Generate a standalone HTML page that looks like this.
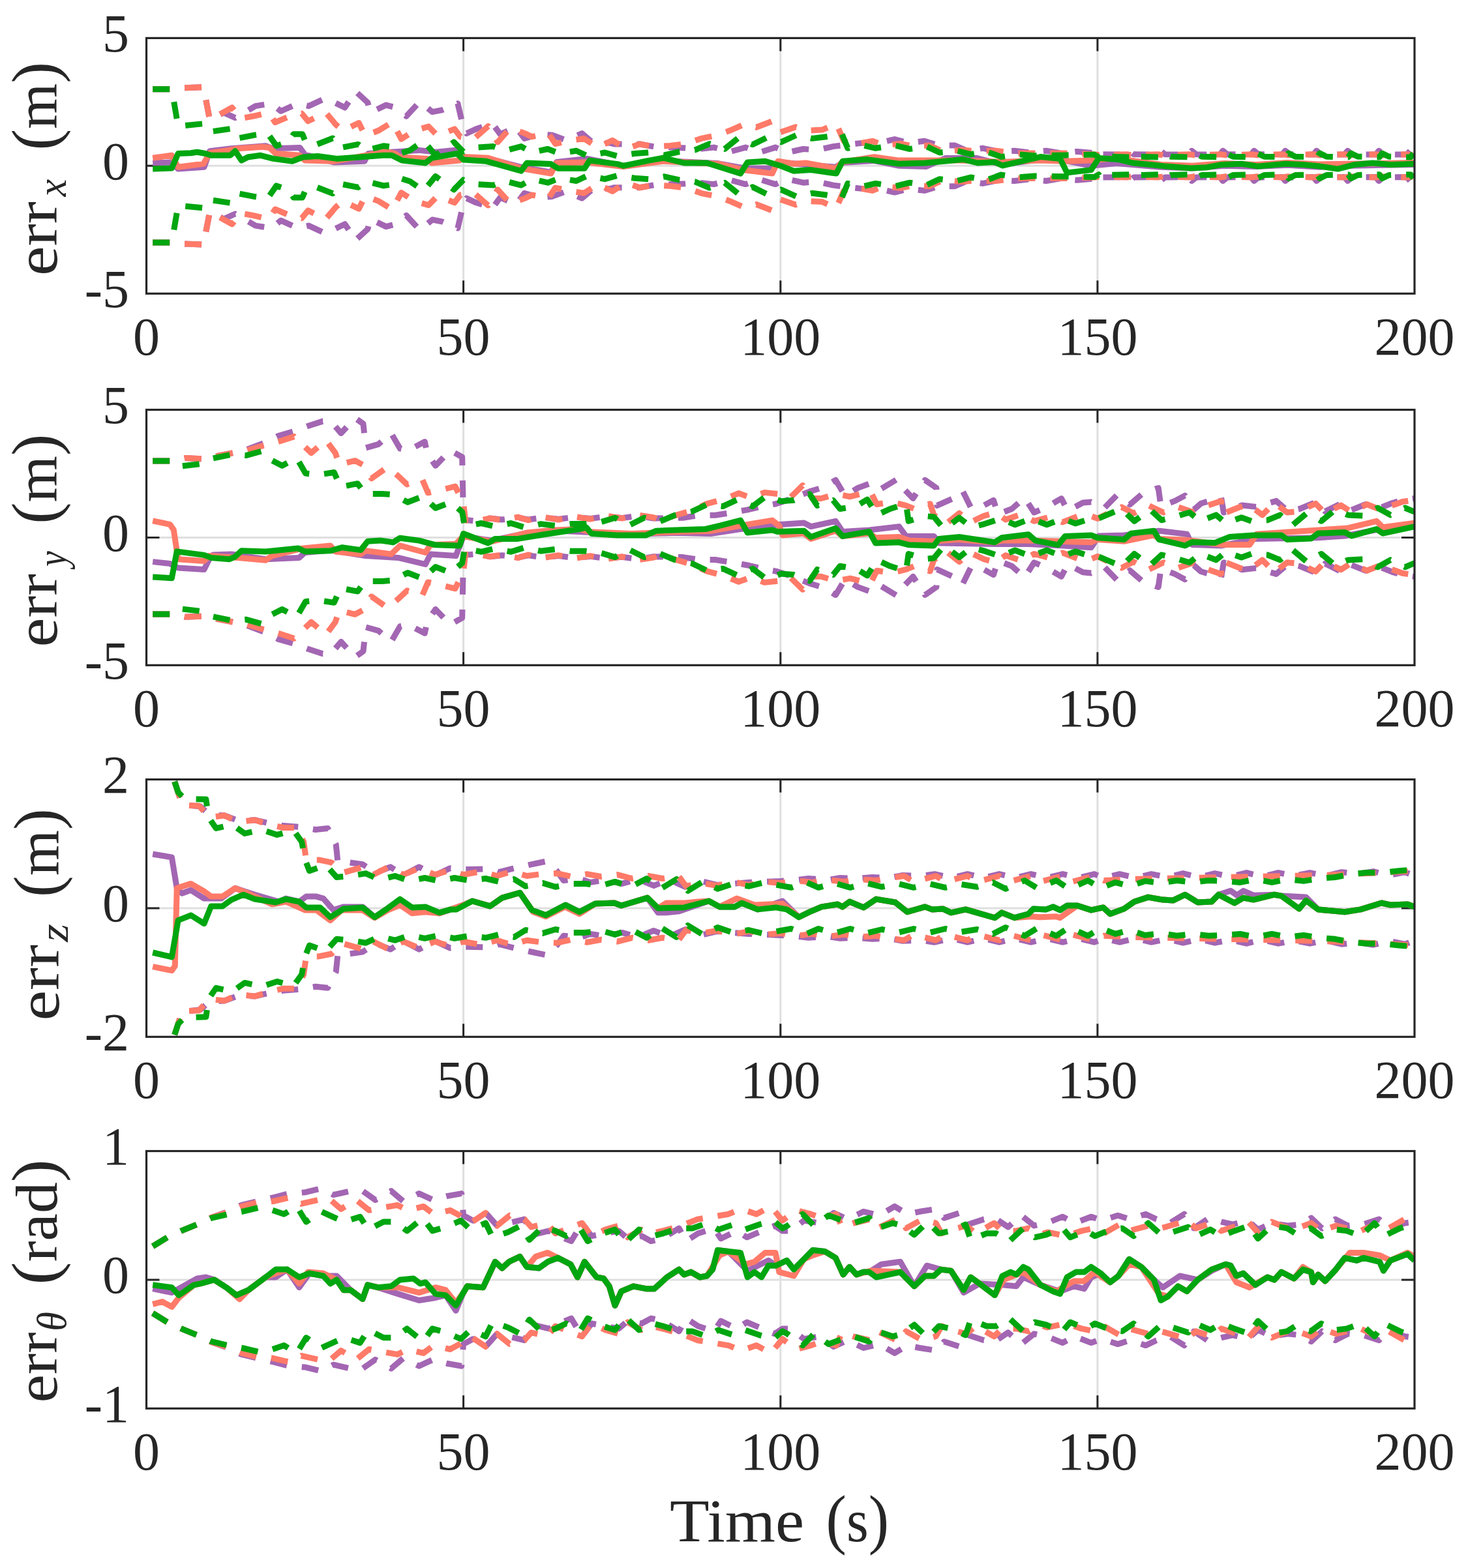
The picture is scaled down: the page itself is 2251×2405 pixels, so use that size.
<!DOCTYPE html>
<html><head><meta charset="utf-8"><title>Estimation errors</title>
<style>html,body{margin:0;padding:0;background:#fff;}svg{display:block;}</style>
</head><body>
<svg width="2251" height="2405" viewBox="0 0 2251 2405">
<rect x="0" y="0" width="2251" height="2405" fill="#fff"/>
<g stroke="#dfdfdf" stroke-width="3"><line x1="710.6" y1="58.4" x2="710.6" y2="450.3"/><line x1="1196.8" y1="58.4" x2="1196.8" y2="450.3"/><line x1="1682.9" y1="58.4" x2="1682.9" y2="450.3"/><line x1="224.5" y1="254.3" x2="2169.0" y2="254.3"/></g>
<path d="M710.6 450.3V430.3M710.6 58.4V78.4M1196.8 450.3V430.3M1196.8 58.4V78.4M1682.9 450.3V430.3M1682.9 58.4V78.4M224.5 254.3H244.5M2169.0 254.3H2149.0" stroke="#262626" stroke-width="3" fill="none"/>
<clipPath id="c0"><rect x="224.5" y="58.4" width="1944.5" height="391.9"/></clipPath>
<g clip-path="url(#c0)">
<polyline points="234.2,136.8 263.4,136.8 282.8,134.8 312.0,133.6 321.7,183.8 343.1,172.8 360.6,180.7 391.7,162.6 416.0,158.7 430.6,170.5 456.9,158.7 473.4,162.6 498.7,150.9 511.3,156.4 528.8,165.0 545.3,140.3 563.8,157.2 567.7,172.8 592.0,161.1 603.7,164.2 623.1,178.3 643.5,156.0 663.0,171.7 677.6,168.9 701.9,158.7 710.6,196.3 715.5,204.6 730.1,197.9 755.3,189.7 767.0,205.8 791.3,195.2 804.0,212.4 827.3,205.8 846.7,207.3 868.1,215.2 892.4,204.6 910.9,220.6 935.2,219.1 942.0,221.0 980.9,221.0 1003.3,225.0 1050.9,226.9 1072.3,228.5 1094.7,226.1 1119.0,232.8 1143.3,226.1 1163.7,234.0 1189.0,226.1 1206.5,234.0 1231.8,228.5 1253.1,230.1 1277.4,224.6 1299.8,221.8 1324.1,219.1 1347.4,219.1 1371.8,213.6 1393.1,219.1 1417.5,216.3 1439.8,223.0 1464.1,223.0 1482.6,231.2 1506.9,227.3 1531.2,232.4 1555.5,231.2 1579.8,234.0 1604.1,231.2 1627.5,235.1 1651.8,232.4 1677.0,234.8 1679.0,237.1 1683.8,231.2 1690.7,236.7 1726.6,237.1 1726.8,237.1 1731.7,231.2 1738.5,236.7 1774.5,237.1 1774.7,237.1 1779.5,231.2 1786.3,236.7 1822.3,237.1 1822.5,237.1 1827.4,231.2 1834.2,236.7 1870.1,237.1 1870.3,237.1 1875.2,231.2 1882.0,236.7 1918.0,237.1 1918.2,237.1 1923.0,231.2 1929.8,236.7 1965.8,237.1 1966.0,237.1 1970.9,231.2 1977.7,236.7 2013.6,237.1 2013.8,237.1 2018.7,231.2 2025.5,236.7 2061.5,237.1 2061.7,237.1 2066.5,231.2 2073.3,236.7 2109.3,237.1 2109.5,237.1 2114.4,231.2 2121.2,236.7 2157.1,237.1 2157.3,237.1 2162.2,231.2 2169.0,236.7" fill="none" stroke="#a366b3" stroke-width="9" stroke-dasharray="26,23" stroke-linejoin="round"/>
<polyline points="234.2,371.9 263.4,371.9 282.8,373.9 312.0,375.1 321.7,324.9 343.1,335.9 360.6,328.0 391.7,346.1 416.0,350.0 430.6,338.2 456.9,350.0 473.4,346.1 498.7,357.8 511.3,352.3 528.8,343.7 545.3,368.4 563.8,351.5 567.7,335.9 592.0,347.6 603.7,344.5 623.1,330.4 643.5,352.7 663.0,337.0 677.6,339.8 701.9,350.0 710.6,312.4 715.5,304.1 730.1,310.8 755.3,319.0 767.0,302.9 791.3,313.5 804.0,296.3 827.3,302.9 846.7,301.4 868.1,293.5 892.4,304.1 910.9,288.1 935.2,289.6 942.0,287.7 980.9,287.7 1003.3,283.7 1050.9,281.8 1072.3,280.2 1094.7,282.6 1119.0,275.9 1143.3,282.6 1163.7,274.7 1189.0,282.6 1206.5,274.7 1231.8,280.2 1253.1,278.6 1277.4,284.1 1299.8,286.9 1324.1,289.6 1347.4,289.6 1371.8,295.1 1393.1,289.6 1417.5,292.4 1439.8,285.7 1464.1,285.7 1482.6,277.5 1506.9,281.4 1531.2,276.3 1555.5,277.5 1579.8,274.7 1604.1,277.5 1627.5,273.6 1651.8,276.3 1677.0,273.9 1679.0,271.6 1683.8,277.5 1690.7,272.0 1726.6,271.6 1726.8,271.6 1731.7,277.5 1738.5,272.0 1774.5,271.6 1774.7,271.6 1779.5,277.5 1786.3,272.0 1822.3,271.6 1822.5,271.6 1827.4,277.5 1834.2,272.0 1870.1,271.6 1870.3,271.6 1875.2,277.5 1882.0,272.0 1918.0,271.6 1918.2,271.6 1923.0,277.5 1929.8,272.0 1965.8,271.6 1966.0,271.6 1970.9,277.5 1977.7,272.0 2013.6,271.6 2013.8,271.6 2018.7,277.5 2025.5,272.0 2061.5,271.6 2061.7,271.6 2066.5,277.5 2073.3,272.0 2109.3,271.6 2109.5,271.6 2114.4,277.5 2121.2,272.0 2157.1,271.6 2157.3,271.6 2162.2,277.5 2169.0,272.0" fill="none" stroke="#a366b3" stroke-width="9" stroke-dasharray="26,23" stroke-linejoin="round"/>
<polyline points="234.2,250.0 263.4,248.9 273.1,259.1 313.0,256.3 321.7,231.6 354.8,227.7 407.3,223.8 418.0,227.7 459.8,226.5 467.6,237.1 512.3,248.9 559.0,247.3 564.8,235.5 642.6,230.4 668.8,233.2 700.9,230.1 710.6,242.6 749.5,243.4 799.1,256.3 844.8,264.1 853.5,248.5 900.2,243.4 955.6,254.3 1016.9,246.5 1099.5,250.4 1142.3,258.3 1184.1,258.3 1192.9,248.5 1235.6,252.4 1281.3,256.3 1292.0,249.6 1340.6,246.5 1378.6,254.3 1420.4,255.5 1449.5,242.6 1498.1,242.6 1537.0,252.4 1595.4,244.6 1634.3,246.5 1673.2,254.3 1712.0,250.4 1780.1,256.3 1828.7,257.9 1877.3,254.3 1925.9,255.5 1974.5,253.2 2023.2,256.3 2071.8,254.3 2120.4,253.2 2169.0,252.4" fill="none" stroke="#a366b3" stroke-width="9" stroke-linejoin="round"/>
<polyline points="234.2,136.8 263.4,136.8 282.8,134.8 312.0,133.6 321.7,183.8 355.8,165.0 368.4,181.8 387.8,178.3 412.1,172.8 421.9,187.7 451.0,175.6 462.7,174.0 472.4,185.8 499.6,172.8 515.2,191.3 525.9,200.3 550.2,188.5 559.9,208.1 580.3,200.3 601.7,187.3 615.3,213.2 635.8,200.3 657.2,194.0 670.8,208.1 697.0,197.9 705.8,209.7 727.2,212.4 748.5,193.6 763.1,217.9 782.6,196.3 804.9,204.6 815.6,209.7 840.9,204.6 851.6,220.6 877.9,215.2 895.4,212.4 916.7,226.1 939.1,215.2 959.5,228.5 980.9,221.0 1003.3,225.0 1027.6,223.4 1051.9,220.6 1075.2,212.4 1099.5,207.3 1119.0,200.3 1143.3,189.7 1159.8,195.2 1184.1,185.8 1195.8,203.0 1220.1,194.8 1236.6,200.3 1260.9,199.1 1282.3,189.7 1294.0,216.3 1308.6,221.8 1337.7,216.3 1355.2,223.0 1381.5,220.3 1400.9,224.6 1425.2,223.0 1445.6,232.4 1474.8,230.1 1488.4,231.2 1527.3,231.2 1556.5,235.1 1634.3,235.1 1678.0,236.7 1687.7,237.9 1727.6,236.7 1735.6,237.9 1775.4,236.7 1783.4,237.9 1823.3,236.7 1831.2,237.9 1871.1,236.7 1879.1,237.9 1918.9,236.7 1926.9,237.9 1966.8,236.7 1974.7,237.9 2014.6,236.7 2022.6,237.9 2062.4,236.7 2070.4,237.9 2110.3,236.7 2118.2,237.9 2158.1,236.7 2166.1,237.9" fill="none" stroke="#ff7a68" stroke-width="9" stroke-dasharray="26,23" stroke-linejoin="round"/>
<polyline points="234.2,371.9 263.4,371.9 282.8,373.9 312.0,375.1 321.7,324.9 355.8,343.7 368.4,326.9 387.8,330.4 412.1,335.9 421.9,321.0 451.0,333.1 462.7,334.7 472.4,322.9 499.6,335.9 515.2,317.4 525.9,308.4 550.2,320.2 559.9,300.6 580.3,308.4 601.7,321.4 615.3,295.5 635.8,308.4 657.2,314.7 670.8,300.6 697.0,310.8 705.8,299.0 727.2,296.3 748.5,315.1 763.1,290.8 782.6,312.4 804.9,304.1 815.6,299.0 840.9,304.1 851.6,288.1 877.9,293.5 895.4,296.3 916.7,282.6 939.1,293.5 959.5,280.2 980.9,287.7 1003.3,283.7 1027.6,285.3 1051.9,288.1 1075.2,296.3 1099.5,301.4 1119.0,308.4 1143.3,319.0 1159.8,313.5 1184.1,322.9 1195.8,305.7 1220.1,313.9 1236.6,308.4 1260.9,309.6 1282.3,319.0 1294.0,292.4 1308.6,286.9 1337.7,292.4 1355.2,285.7 1381.5,288.4 1400.9,284.1 1425.2,285.7 1445.6,276.3 1474.8,278.6 1488.4,277.5 1527.3,277.5 1556.5,273.6 1634.3,273.6 1678.0,272.0 1687.7,270.8 1727.6,272.0 1735.6,270.8 1775.4,272.0 1783.4,270.8 1823.3,272.0 1831.2,270.8 1871.1,272.0 1879.1,270.8 1918.9,272.0 1926.9,270.8 1966.8,272.0 1974.7,270.8 2014.6,272.0 2022.6,270.8 2062.4,272.0 2070.4,270.8 2110.3,272.0 2118.2,270.8 2158.1,272.0 2166.1,270.8" fill="none" stroke="#ff7a68" stroke-width="9" stroke-dasharray="26,23" stroke-linejoin="round"/>
<polyline points="234.2,242.2 263.4,238.3 273.1,256.3 312.0,251.2 321.7,234.4 350.9,230.4 365.5,227.7 402.4,225.3 413.1,226.5 422.8,235.5 459.8,238.3 467.6,246.1 512.3,247.3 561.9,238.3 590.1,231.6 605.6,235.5 613.4,241.0 655.2,243.4 662.0,250.0 704.8,246.1 710.6,240.6 748.5,242.2 799.1,258.3 844.8,266.1 853.5,250.0 899.2,248.9 955.6,255.5 1016.9,247.3 1103.4,251.6 1142.3,261.0 1184.1,266.1 1192.9,247.3 1217.2,251.2 1235.6,250.0 1281.3,258.3 1292.0,248.5 1340.6,240.6 1378.6,246.1 1469.0,246.1 1537.0,248.5 1593.4,246.1 1634.3,247.3 1673.2,246.1 1712.0,242.6 1741.2,247.3 1780.1,252.4 1828.7,254.3 1877.3,250.4 1925.9,252.4 1974.5,249.6 2023.2,252.0 2071.8,251.2 2120.4,250.4 2169.0,249.6" fill="none" stroke="#ff7a68" stroke-width="9" stroke-linejoin="round"/>
<polyline points="234.2,136.8 263.4,136.8 273.1,193.6 312.0,189.7 321.7,202.2 355.8,197.1 365.5,212.0 391.7,206.9 410.2,204.2 423.8,223.8 443.3,217.1 450.1,205.8 463.7,205.8 469.5,219.9 486.0,221.4 510.3,212.0 521.0,226.9 549.2,221.4 561.9,230.4 588.1,223.8 606.6,226.5 615.3,234.8 629.0,230.4 649.4,215.9 667.8,238.3 696.0,217.9 710.6,232.8 732.0,226.1 756.3,224.6 773.8,231.2 799.1,224.6 815.6,234.0 839.9,228.5 858.4,235.5 883.7,231.2 901.2,239.5 927.4,234.0 946.9,239.5 973.1,235.5 994.5,234.0 1018.8,237.9 1041.2,232.8 1065.5,230.1 1087.9,220.6 1111.2,228.5 1132.6,211.2 1154.0,221.8 1175.4,211.2 1197.7,217.9 1222.0,206.9 1245.4,212.4 1266.8,209.7 1291.1,205.8 1299.8,227.3 1324.1,223.0 1342.6,227.3 1371.8,223.0 1395.1,228.5 1420.4,224.6 1440.8,234.0 1467.0,231.2 1488.4,236.7 1512.7,232.4 1535.1,240.6 1560.4,236.7 1585.7,238.7 1634.3,237.9 1678.0,237.1 1684.8,241.0 1688.7,235.1 1699.4,240.2 1729.5,241.0 1732.7,241.0 1736.5,235.1 1747.2,240.2 1777.4,241.0 1780.5,241.0 1784.4,235.1 1795.1,240.2 1825.2,241.0 1828.3,241.0 1832.2,235.1 1842.9,240.2 1873.0,241.0 1876.2,241.0 1880.0,235.1 1890.7,240.2 1920.9,241.0 1924.0,241.0 1927.9,235.1 1938.6,240.2 1968.7,241.0 1971.8,241.0 1975.7,235.1 1986.4,240.2 2016.6,241.0 2019.7,241.0 2023.6,235.1 2034.2,240.2 2064.4,241.0 2067.5,241.0 2071.4,235.1 2082.1,240.2 2112.2,241.0 2115.3,241.0 2119.2,235.1 2129.9,240.2 2160.1,241.0 2163.2,241.0 2167.1,235.1" fill="none" stroke="#00a610" stroke-width="9" stroke-dasharray="26,23" stroke-linejoin="round"/>
<polyline points="234.2,371.9 263.4,371.9 273.1,315.1 312.0,319.0 321.7,306.5 355.8,311.6 365.5,296.7 391.7,301.8 410.2,304.5 423.8,284.9 443.3,291.6 450.1,302.9 463.7,302.9 469.5,288.8 486.0,287.3 510.3,296.7 521.0,281.8 549.2,287.3 561.9,278.3 588.1,284.9 606.6,282.2 615.3,273.9 629.0,278.3 649.4,292.8 667.8,270.4 696.0,290.8 710.6,275.9 732.0,282.6 756.3,284.1 773.8,277.5 799.1,284.1 815.6,274.7 839.9,280.2 858.4,273.2 883.7,277.5 901.2,269.2 927.4,274.7 946.9,269.2 973.1,273.2 994.5,274.7 1018.8,270.8 1041.2,275.9 1065.5,278.6 1087.9,288.1 1111.2,280.2 1132.6,297.5 1154.0,286.9 1175.4,297.5 1197.7,290.8 1222.0,301.8 1245.4,296.3 1266.8,299.0 1291.1,302.9 1299.8,281.4 1324.1,285.7 1342.6,281.4 1371.8,285.7 1395.1,280.2 1420.4,284.1 1440.8,274.7 1467.0,277.5 1488.4,272.0 1512.7,276.3 1535.1,268.1 1560.4,272.0 1585.7,270.0 1634.3,270.8 1678.0,271.6 1684.8,267.7 1688.7,273.6 1699.4,268.5 1729.5,267.7 1732.7,267.7 1736.5,273.6 1747.2,268.5 1777.4,267.7 1780.5,267.7 1784.4,273.6 1795.1,268.5 1825.2,267.7 1828.3,267.7 1832.2,273.6 1842.9,268.5 1873.0,267.7 1876.2,267.7 1880.0,273.6 1890.7,268.5 1920.9,267.7 1924.0,267.7 1927.9,273.6 1938.6,268.5 1968.7,267.7 1971.8,267.7 1975.7,273.6 1986.4,268.5 2016.6,267.7 2019.7,267.7 2023.6,273.6 2034.2,268.5 2064.4,267.7 2067.5,267.7 2071.4,273.6 2082.1,268.5 2112.2,267.7 2115.3,267.7 2119.2,273.6 2129.9,268.5 2160.1,267.7 2163.2,267.7 2167.1,273.6" fill="none" stroke="#00a610" stroke-width="9" stroke-dasharray="26,23" stroke-linejoin="round"/>
<polyline points="234.2,259.1 263.4,257.9 273.1,235.5 292.6,234.8 302.3,233.2 314.9,235.5 323.7,238.3 352.8,238.3 360.6,231.6 370.3,246.1 380.1,241.0 399.5,238.3 418.9,243.4 448.1,247.3 464.6,241.0 487.0,239.5 516.2,243.4 551.2,241.0 587.1,238.3 600.8,238.3 616.3,246.1 652.3,250.0 662.0,242.2 700.9,235.5 710.6,244.9 745.6,247.3 799.1,262.2 807.9,250.0 844.8,251.6 855.5,258.3 896.3,258.3 904.1,246.1 946.9,251.6 955.6,254.3 995.5,246.1 1016.9,242.2 1049.0,250.0 1084.0,250.0 1135.5,266.1 1146.2,248.9 1173.4,247.3 1196.8,254.3 1217.2,262.2 1243.4,260.6 1282.3,266.1 1292.0,247.3 1329.9,244.6 1378.6,251.2 1418.4,250.0 1477.7,244.6 1499.1,250.0 1525.4,248.5 1537.0,254.0 1566.2,247.3 1595.4,240.6 1625.5,243.4 1636.2,264.9 1673.2,260.6 1684.8,242.6 1715.0,244.6 1737.3,250.0 1763.6,252.4 1787.9,255.1 1825.8,257.9 1850.1,256.7 1873.4,252.4 1903.6,251.2 1929.8,255.1 1970.7,251.2 1997.9,252.4 2024.1,255.1 2051.4,259.1 2077.6,252.4 2104.8,250.0 2132.1,252.4 2169.0,251.2" fill="none" stroke="#00a610" stroke-width="9" stroke-linejoin="round"/>
</g>
<rect x="224.5" y="58.4" width="1944.5" height="391.9" fill="none" stroke="#262626" stroke-width="3.2"/>
<text x="198" y="470.8" font-family="Liberation Serif, serif" font-size="82" fill="#262626" text-anchor="end">-5</text>
<text x="198" y="274.9" font-family="Liberation Serif, serif" font-size="82" fill="#262626" text-anchor="end">0</text>
<text x="198" y="78.9" font-family="Liberation Serif, serif" font-size="82" fill="#262626" text-anchor="end">5</text>
<text x="224.5" y="544.0" font-family="Liberation Serif, serif" font-size="82" fill="#262626" text-anchor="middle">0</text>
<text x="710.6" y="544.0" font-family="Liberation Serif, serif" font-size="82" fill="#262626" text-anchor="middle">50</text>
<text x="1196.8" y="544.0" font-family="Liberation Serif, serif" font-size="82" fill="#262626" text-anchor="middle">100</text>
<text x="1682.9" y="544.0" font-family="Liberation Serif, serif" font-size="82" fill="#262626" text-anchor="middle">150</text>
<text x="2169.0" y="544.0" font-family="Liberation Serif, serif" font-size="82" fill="#262626" text-anchor="middle">200</text>
<g stroke="#dfdfdf" stroke-width="3"><line x1="710.6" y1="628.5" x2="710.6" y2="1020.3"/><line x1="1196.8" y1="628.5" x2="1196.8" y2="1020.3"/><line x1="1682.9" y1="628.5" x2="1682.9" y2="1020.3"/><line x1="224.5" y1="824.4" x2="2169.0" y2="824.4"/></g>
<path d="M710.6 1020.3V1000.3M710.6 628.5V648.5M1196.8 1020.3V1000.3M1196.8 628.5V648.5M1682.9 1020.3V1000.3M1682.9 628.5V648.5M224.5 824.4H244.5M2169.0 824.4H2149.0" stroke="#262626" stroke-width="3" fill="none"/>
<clipPath id="c1"><rect x="224.5" y="628.5" width="1944.5" height="391.8"/></clipPath>
<g clip-path="url(#c1)">
<polyline points="234.2,706.9 263.4,706.9 283.8,702.6 310.1,703.7 354.8,695.1 379.1,689.2 405.3,679.4 426.7,668.5 450.1,661.8 470.5,654.0 494.8,646.1 507.4,646.1 523.0,664.5 544.4,641.0 557.0,650.0 560.9,686.9 580.3,681.4 599.8,664.5 613.4,688.1 626.0,690.8 651.3,677.5 655.2,695.9 667.8,714.3 690.2,690.8 708.7,701.0 710.6,797.0 727.2,798.9 751.5,795.0 769.9,797.0 794.2,793.8 809.8,797.0 832.2,793.8 856.5,796.2 880.8,793.1 905.1,795.4 929.4,792.3 953.7,794.6 978.0,791.1 1002.3,795.0 1047.0,794.2 1072.3,790.3 1096.6,790.3 1120.9,786.4 1145.2,782.1 1168.6,776.6 1189.9,772.7 1215.2,764.5 1241.5,753.9 1263.8,747.2 1281.3,736.2 1295.9,760.5 1315.4,748.4 1337.7,740.2 1351.3,749.6 1375.6,735.1 1383.4,747.2 1400.0,764.5 1418.4,736.2 1435.9,748.4 1436.9,775.4 1461.2,764.5 1475.8,752.3 1488.4,777.8 1499.1,780.5 1523.4,767.2 1530.2,788.7 1551.6,780.5 1571.1,763.3 1585.7,786.0 1605.1,777.8 1627.5,764.5 1637.2,783.3 1660.5,771.1 1673.2,769.9 1693.6,779.0 1713.0,759.0 1732.5,773.9 1752.9,756.2 1776.2,748.4 1780.1,776.6 1801.5,768.4 1817.0,760.1 1830.7,781.7 1841.4,772.3 1872.5,762.9 1876.4,786.0 1904.5,775.0 1925.9,777.4 1957.0,768.4 1975.5,784.4 1993.0,780.5 2019.3,769.5 2031.9,784.4 2056.2,772.3 2069.8,783.3 2094.1,773.5 2115.5,779.3 2135.0,771.5 2150.5,767.2 2169.0,764.5" fill="none" stroke="#a366b3" stroke-width="9" stroke-dasharray="26,23" stroke-linejoin="round"/>
<polyline points="234.2,941.9 263.4,941.9 283.8,946.2 310.1,945.1 354.8,953.7 379.1,959.6 405.3,969.4 426.7,980.3 450.1,987.0 470.5,994.8 494.8,1002.7 507.4,1002.7 523.0,984.3 544.4,1007.8 557.0,998.8 560.9,961.9 580.3,967.4 599.8,984.3 613.4,960.7 626.0,958.0 651.3,971.3 655.2,952.9 667.8,934.5 690.2,958.0 708.7,947.8 710.6,851.8 727.2,849.9 751.5,853.8 769.9,851.8 794.2,855.0 809.8,851.8 832.2,855.0 856.5,852.6 880.8,855.7 905.1,853.4 929.4,856.5 953.7,854.2 978.0,857.7 1002.3,853.8 1047.0,854.6 1072.3,858.5 1096.6,858.5 1120.9,862.4 1145.2,866.7 1168.6,872.2 1189.9,876.1 1215.2,884.3 1241.5,894.9 1263.8,901.6 1281.3,912.6 1295.9,888.3 1315.4,900.4 1337.7,908.6 1351.3,899.2 1375.6,913.7 1383.4,901.6 1400.0,884.3 1418.4,912.6 1435.9,900.4 1436.9,873.4 1461.2,884.3 1475.8,896.5 1488.4,871.0 1499.1,868.3 1523.4,881.6 1530.2,860.1 1551.6,868.3 1571.1,885.5 1585.7,862.8 1605.1,871.0 1627.5,884.3 1637.2,865.5 1660.5,877.7 1673.2,878.9 1693.6,869.8 1713.0,889.8 1732.5,874.9 1752.9,892.6 1776.2,900.4 1780.1,872.2 1801.5,880.4 1817.0,888.7 1830.7,867.1 1841.4,876.5 1872.5,885.9 1876.4,862.8 1904.5,873.8 1925.9,871.4 1957.0,880.4 1975.5,864.4 1993.0,868.3 2019.3,879.3 2031.9,864.4 2056.2,876.5 2069.8,865.5 2094.1,875.3 2115.5,869.5 2135.0,877.3 2150.5,881.6 2169.0,884.3" fill="none" stroke="#a366b3" stroke-width="9" stroke-dasharray="26,23" stroke-linejoin="round"/>
<polyline points="234.2,861.6 260.5,864.4 273.1,871.0 313.0,873.4 320.8,857.7 326.6,851.0 354.8,849.9 407.3,857.7 458.8,855.4 467.6,847.5 506.5,844.0 560.9,852.6 610.5,855.4 652.3,865.5 660.1,849.9 699.0,852.6 710.6,822.4 753.4,829.1 807.9,817.7 850.6,813.8 905.1,816.6 968.3,819.3 1036.3,817.3 1089.8,818.5 1135.5,811.5 1184.1,806.4 1191.9,804.8 1232.7,802.1 1243.4,807.6 1281.3,799.3 1292.0,815.4 1332.9,813.0 1378.6,807.6 1389.3,822.4 1432.0,822.4 1439.8,833.0 1525.4,834.6 1576.9,834.6 1630.4,836.9 1673.2,839.7 1684.8,822.0 1723.7,820.9 1777.2,814.2 1820.0,819.3 1827.7,835.4 1873.4,836.9 1925.9,826.4 2021.2,824.8 2062.1,822.0 2110.7,812.6 2169.0,806.0" fill="none" stroke="#a366b3" stroke-width="9" stroke-linejoin="round"/>
<polyline points="234.2,706.9 263.4,706.9 283.8,702.6 310.1,703.7 354.8,695.1 379.1,690.8 405.3,683.0 426.7,677.5 451.0,669.6 460.8,679.0 477.3,694.7 499.6,675.1 514.2,694.7 520.1,712.7 544.4,706.5 556.0,712.7 569.6,733.9 594.0,716.7 610.5,730.0 624.1,742.9 647.4,735.1 656.2,755.8 679.5,750.7 698.0,746.0 710.6,771.5 713.5,798.1 727.2,799.7 751.5,795.0 769.9,797.8 794.2,793.1 809.8,797.8 832.2,793.1 856.5,797.0 880.8,792.3 905.1,796.2 929.4,791.1 953.7,795.0 978.0,789.9 1002.3,793.8 1012.0,798.1 1036.3,790.3 1060.6,783.3 1084.0,772.7 1109.2,766.0 1132.6,756.6 1151.1,763.3 1172.4,755.4 1194.8,757.8 1210.4,764.5 1230.8,744.5 1245.4,764.5 1259.0,764.5 1282.3,757.8 1303.7,761.7 1334.8,753.9 1344.5,773.5 1366.9,769.9 1389.3,775.4 1401.9,780.5 1426.2,772.7 1432.0,789.9 1450.5,803.6 1470.9,787.2 1488.4,800.9 1507.9,791.5 1527.3,786.0 1541.9,797.0 1566.2,788.7 1585.7,799.3 1610.0,792.7 1629.4,800.9 1653.7,791.5 1673.2,791.5 1682.9,795.4 1719.8,777.8 1738.3,787.2 1760.7,775.0 1784.0,786.0 1805.4,777.4 1828.7,785.2 1841.4,779.0 1872.5,768.4 1873.4,788.7 1900.7,777.8 1914.3,773.9 1935.7,789.9 1954.1,771.1 1973.6,786.0 1992.1,784.4 2017.3,772.3 2031.9,787.2 2056.2,775.0 2071.8,785.2 2096.1,773.5 2115.5,781.3 2139.8,773.5 2150.5,769.5 2169.0,766.8" fill="none" stroke="#ff7a68" stroke-width="9" stroke-dasharray="26,23" stroke-linejoin="round"/>
<polyline points="234.2,941.9 263.4,941.9 283.8,946.2 310.1,945.1 354.8,953.7 379.1,958.0 405.3,965.8 426.7,971.3 451.0,979.2 460.8,969.8 477.3,954.1 499.6,973.7 514.2,954.1 520.1,936.1 544.4,942.3 556.0,936.1 569.6,914.9 594.0,932.1 610.5,918.8 624.1,905.9 647.4,913.7 656.2,893.0 679.5,898.1 698.0,902.8 710.6,877.3 713.5,850.7 727.2,849.1 751.5,853.8 769.9,851.0 794.2,855.7 809.8,851.0 832.2,855.7 856.5,851.8 880.8,856.5 905.1,852.6 929.4,857.7 953.7,853.8 978.0,858.9 1002.3,855.0 1012.0,850.7 1036.3,858.5 1060.6,865.5 1084.0,876.1 1109.2,882.8 1132.6,892.2 1151.1,885.5 1172.4,893.4 1194.8,891.0 1210.4,884.3 1230.8,904.3 1245.4,884.3 1259.0,884.3 1282.3,891.0 1303.7,887.1 1334.8,894.9 1344.5,875.3 1366.9,878.9 1389.3,873.4 1401.9,868.3 1426.2,876.1 1432.0,858.9 1450.5,845.2 1470.9,861.6 1488.4,847.9 1507.9,857.3 1527.3,862.8 1541.9,851.8 1566.2,860.1 1585.7,849.5 1610.0,856.1 1629.4,847.9 1653.7,857.3 1673.2,857.3 1682.9,853.4 1719.8,871.0 1738.3,861.6 1760.7,873.8 1784.0,862.8 1805.4,871.4 1828.7,863.6 1841.4,869.8 1872.5,880.4 1873.4,860.1 1900.7,871.0 1914.3,874.9 1935.7,858.9 1954.1,877.7 1973.6,862.8 1992.1,864.4 2017.3,876.5 2031.9,861.6 2056.2,873.8 2071.8,863.6 2096.1,875.3 2115.5,867.5 2139.8,875.3 2150.5,879.3 2169.0,882.0" fill="none" stroke="#ff7a68" stroke-width="9" stroke-dasharray="26,23" stroke-linejoin="round"/>
<polyline points="234.2,798.9 260.5,804.4 266.3,812.6 273.1,857.7 313.0,860.4 320.8,852.6 365.5,855.4 407.3,859.3 417.0,852.6 464.6,840.9 506.5,836.9 514.2,845.9 553.1,849.9 560.9,844.8 599.8,849.9 613.4,836.9 652.3,847.5 660.1,835.8 699.0,834.2 710.6,822.4 753.4,830.7 807.9,817.0 850.6,813.0 888.5,811.5 905.1,815.8 968.3,818.5 1036.3,815.8 1089.8,814.2 1135.5,806.4 1151.1,803.6 1184.1,798.1 1194.8,806.4 1199.7,820.9 1232.7,818.1 1243.4,826.4 1281.3,814.2 1292.0,822.4 1332.9,818.1 1342.6,824.8 1378.6,823.6 1394.1,829.1 1429.1,830.3 1469.0,827.5 1525.4,831.8 1536.1,829.1 1576.9,829.1 1622.6,830.3 1673.2,831.8 1682.9,827.5 1723.7,830.3 1769.4,820.9 1777.2,826.4 1819.0,828.3 1873.4,835.4 1916.2,835.4 1926.9,819.3 2010.5,813.8 2066.9,809.9 2110.7,799.3 2120.4,808.7 2169.0,802.1" fill="none" stroke="#ff7a68" stroke-width="9" stroke-linejoin="round"/>
<polyline points="234.2,706.9 263.4,706.9 273.1,715.5 306.2,711.6 326.6,702.9 354.8,697.1 377.1,698.6 401.4,692.0 412.1,703.7 432.6,714.3 454.9,702.6 468.5,726.1 487.0,728.4 512.3,724.5 522.0,746.8 548.3,741.7 559.9,757.4 586.2,757.4 602.7,758.6 625.1,770.3 648.4,761.3 667.8,779.3 691.2,770.3 708.7,785.2 712.6,807.6 737.8,802.5 759.2,807.6 783.5,802.5 804.9,809.1 829.2,803.6 851.6,806.4 874.9,803.6 897.3,803.6 920.6,800.9 943.0,794.2 963.4,806.4 987.7,794.2 1012.0,799.7 1034.4,790.3 1060.6,784.8 1083.0,774.2 1108.3,776.6 1131.6,766.0 1154.0,776.6 1175.4,760.5 1197.7,768.8 1217.2,767.2 1241.5,757.8 1253.1,775.4 1277.4,767.2 1288.1,780.5 1312.4,776.6 1329.9,766.0 1344.5,789.9 1364.9,780.5 1389.3,772.7 1393.1,799.3 1418.4,791.5 1432.0,792.7 1447.6,811.5 1470.9,794.2 1489.4,808.7 1509.8,803.6 1534.1,795.4 1556.5,804.8 1580.8,795.4 1605.1,804.8 1629.4,795.4 1648.8,802.9 1673.2,795.4 1680.9,796.6 1706.2,786.0 1719.8,780.5 1739.3,799.3 1763.6,781.7 1781.1,797.8 1801.5,792.7 1823.9,786.0 1840.4,799.3 1864.7,789.9 1879.3,802.1 1903.6,793.8 1919.1,799.3 1943.4,797.8 1962.9,789.9 1981.4,806.0 2003.7,787.2 2026.1,799.3 2047.5,781.7 2066.9,789.9 2090.2,791.1 2112.6,779.0 2132.1,789.9 2154.4,779.0 2169.0,785.2" fill="none" stroke="#00a610" stroke-width="9" stroke-dasharray="26,23" stroke-linejoin="round"/>
<polyline points="234.2,941.9 263.4,941.9 273.1,933.3 306.2,937.2 326.6,945.9 354.8,951.7 377.1,950.2 401.4,956.8 412.1,945.1 432.6,934.5 454.9,946.2 468.5,922.7 487.0,920.4 512.3,924.3 522.0,902.0 548.3,907.1 559.9,891.4 586.2,891.4 602.7,890.2 625.1,878.5 648.4,887.5 667.8,869.5 691.2,878.5 708.7,863.6 712.6,841.2 737.8,846.3 759.2,841.2 783.5,846.3 804.9,839.7 829.2,845.2 851.6,842.4 874.9,845.2 897.3,845.2 920.6,847.9 943.0,854.6 963.4,842.4 987.7,854.6 1012.0,849.1 1034.4,858.5 1060.6,864.0 1083.0,874.6 1108.3,872.2 1131.6,882.8 1154.0,872.2 1175.4,888.3 1197.7,880.0 1217.2,881.6 1241.5,891.0 1253.1,873.4 1277.4,881.6 1288.1,868.3 1312.4,872.2 1329.9,882.8 1344.5,858.9 1364.9,868.3 1389.3,876.1 1393.1,849.5 1418.4,857.3 1432.0,856.1 1447.6,837.3 1470.9,854.6 1489.4,840.1 1509.8,845.2 1534.1,853.4 1556.5,844.0 1580.8,853.4 1605.1,844.0 1629.4,853.4 1648.8,845.9 1673.2,853.4 1680.9,852.2 1706.2,862.8 1719.8,868.3 1739.3,849.5 1763.6,867.1 1781.1,851.0 1801.5,856.1 1823.9,862.8 1840.4,849.5 1864.7,858.9 1879.3,846.7 1903.6,855.0 1919.1,849.5 1943.4,851.0 1962.9,858.9 1981.4,842.8 2003.7,861.6 2026.1,849.5 2047.5,867.1 2066.9,858.9 2090.2,857.7 2112.6,869.8 2132.1,858.9 2154.4,869.8 2169.0,863.6" fill="none" stroke="#00a610" stroke-width="9" stroke-dasharray="26,23" stroke-linejoin="round"/>
<polyline points="234.2,885.1 263.4,886.7 271.2,845.9 313.0,851.4 323.7,855.4 351.9,857.7 360.6,853.8 370.3,844.8 407.3,845.9 456.9,840.9 467.6,845.9 506.5,844.8 524.9,839.7 553.1,843.6 563.8,830.3 584.2,829.1 602.7,831.8 613.4,825.2 642.6,829.1 667.8,835.8 704.8,836.9 710.6,818.5 748.5,833.0 759.2,826.4 794.2,826.4 834.1,819.7 888.5,811.5 899.2,809.1 907.0,818.5 946.9,820.9 990.6,820.9 1006.2,814.2 1036.3,813.0 1082.0,811.5 1103.4,806.4 1135.5,798.1 1146.2,817.0 1184.1,813.0 1191.9,815.4 1232.7,814.2 1243.4,823.6 1281.3,810.3 1292.0,822.4 1332.9,815.4 1342.6,833.0 1378.6,831.8 1394.1,835.8 1432.0,836.9 1439.8,826.4 1471.9,823.6 1525.4,831.8 1536.1,824.8 1576.9,819.7 1587.6,829.1 1622.6,835.8 1633.3,822.4 1673.2,820.9 1682.9,824.8 1723.7,827.5 1734.4,818.1 1769.4,814.2 1777.2,827.5 1817.0,836.9 1827.7,831.5 1862.7,832.6 1885.1,823.6 1922.0,820.9 1964.8,820.9 1973.6,827.5 2010.5,826.0 2021.2,818.1 2062.1,816.6 2072.7,822.0 2110.7,811.5 2120.4,818.1 2169.0,807.6" fill="none" stroke="#00a610" stroke-width="9" stroke-linejoin="round"/>
</g>
<rect x="224.5" y="628.5" width="1944.5" height="391.8" fill="none" stroke="#262626" stroke-width="3.2"/>
<text x="198" y="1040.8" font-family="Liberation Serif, serif" font-size="82" fill="#262626" text-anchor="end">-5</text>
<text x="198" y="844.9" font-family="Liberation Serif, serif" font-size="82" fill="#262626" text-anchor="end">0</text>
<text x="198" y="649.0" font-family="Liberation Serif, serif" font-size="82" fill="#262626" text-anchor="end">5</text>
<text x="224.5" y="1114.0" font-family="Liberation Serif, serif" font-size="82" fill="#262626" text-anchor="middle">0</text>
<text x="710.6" y="1114.0" font-family="Liberation Serif, serif" font-size="82" fill="#262626" text-anchor="middle">50</text>
<text x="1196.8" y="1114.0" font-family="Liberation Serif, serif" font-size="82" fill="#262626" text-anchor="middle">100</text>
<text x="1682.9" y="1114.0" font-family="Liberation Serif, serif" font-size="82" fill="#262626" text-anchor="middle">150</text>
<text x="2169.0" y="1114.0" font-family="Liberation Serif, serif" font-size="82" fill="#262626" text-anchor="middle">200</text>
<g stroke="#dfdfdf" stroke-width="3"><line x1="710.6" y1="1195.5" x2="710.6" y2="1590.3"/><line x1="1196.8" y1="1195.5" x2="1196.8" y2="1590.3"/><line x1="1682.9" y1="1195.5" x2="1682.9" y2="1590.3"/><line x1="224.5" y1="1392.9" x2="2169.0" y2="1392.9"/></g>
<path d="M710.6 1590.3V1570.3M710.6 1195.5V1215.5M1196.8 1590.3V1570.3M1196.8 1195.5V1215.5M1682.9 1590.3V1570.3M1682.9 1195.5V1215.5M224.5 1392.9H244.5M2169.0 1392.9H2149.0" stroke="#262626" stroke-width="3" fill="none"/>
<clipPath id="c2"><rect x="224.5" y="1195.5" width="1944.5" height="394.8"/></clipPath>
<g clip-path="url(#c2)">
<polyline points="234.2,1106.7 243.9,1136.3 253.7,1161.0 263.4,1185.6 273.1,1215.2 279.9,1234.0 307.1,1237.0 321.7,1249.8 344.1,1250.8 365.5,1258.7 390.8,1257.7 412.1,1262.6 434.5,1266.6 460.8,1268.5 484.1,1272.5 502.6,1270.5 515.2,1295.2 518.1,1323.8 535.6,1322.8 556.0,1325.8 576.5,1338.6 598.8,1329.7 618.3,1342.6 642.6,1329.7 666.9,1342.6 690.2,1331.7 710.6,1333.7 752.4,1332.7 765.1,1337.6 788.4,1331.7 814.7,1325.8 839.0,1320.8 854.5,1336.6 864.2,1350.5 888.5,1347.5 905.1,1353.4 929.4,1349.5 953.7,1355.4 978.0,1348.5 1002.3,1358.4 1026.6,1349.5 1050.9,1360.3 1075.2,1351.4 1099.5,1357.4 1148.1,1353.4 1196.8,1351.4 1222.0,1349.5 1239.5,1347.5 1269.7,1349.5 1288.1,1346.5 1313.4,1347.5 1337.7,1345.5 1363.0,1346.5 1383.4,1342.6 1411.6,1343.5 1433.0,1340.6 1459.3,1346.5 1483.6,1340.6 1507.9,1346.5 1532.2,1340.6 1556.5,1346.5 1580.8,1340.6 1605.1,1346.5 1629.4,1340.6 1653.7,1346.5 1678.0,1340.6 1692.6,1346.5 1716.9,1340.6 1741.2,1346.5 1765.5,1340.6 1789.8,1345.5 1814.1,1339.6 1838.4,1345.5 1862.7,1339.6 1887.0,1344.5 1911.4,1338.6 1935.7,1344.5 1960.0,1338.6 1984.3,1343.5 2008.6,1338.6 2032.9,1343.5 2057.2,1337.6 2081.5,1340.6 2105.8,1336.6 2130.1,1342.6 2154.4,1337.6 2169.0,1343.5" fill="none" stroke="#a366b3" stroke-width="9" stroke-dasharray="26,23" stroke-linejoin="round"/>
<polyline points="234.2,1679.1 243.9,1649.5 253.7,1624.8 263.4,1600.2 273.1,1570.6 279.9,1551.8 307.1,1548.8 321.7,1536.0 344.1,1535.0 365.5,1527.1 390.8,1528.1 412.1,1523.2 434.5,1519.2 460.8,1517.3 484.1,1513.3 502.6,1515.3 515.2,1490.6 518.1,1462.0 535.6,1463.0 556.0,1460.0 576.5,1447.2 598.8,1456.1 618.3,1443.2 642.6,1456.1 666.9,1443.2 690.2,1454.1 710.6,1452.1 752.4,1453.1 765.1,1448.2 788.4,1454.1 814.7,1460.0 839.0,1465.0 854.5,1449.2 864.2,1435.3 888.5,1438.3 905.1,1432.4 929.4,1436.3 953.7,1430.4 978.0,1437.3 1002.3,1427.4 1026.6,1436.3 1050.9,1425.5 1075.2,1434.4 1099.5,1428.4 1148.1,1432.4 1196.8,1434.4 1222.0,1436.3 1239.5,1438.3 1269.7,1436.3 1288.1,1439.3 1313.4,1438.3 1337.7,1440.3 1363.0,1439.3 1383.4,1443.2 1411.6,1442.2 1433.0,1445.2 1459.3,1439.3 1483.6,1445.2 1507.9,1439.3 1532.2,1445.2 1556.5,1439.3 1580.8,1445.2 1605.1,1439.3 1629.4,1445.2 1653.7,1439.3 1678.0,1445.2 1692.6,1439.3 1716.9,1445.2 1741.2,1439.3 1765.5,1445.2 1789.8,1440.3 1814.1,1446.2 1838.4,1440.3 1862.7,1446.2 1887.0,1441.3 1911.4,1447.2 1935.7,1441.3 1960.0,1447.2 1984.3,1442.2 2008.6,1447.2 2032.9,1442.2 2057.2,1448.2 2081.5,1445.2 2105.8,1449.2 2130.1,1443.2 2154.4,1448.2 2169.0,1442.2" fill="none" stroke="#a366b3" stroke-width="9" stroke-dasharray="26,23" stroke-linejoin="round"/>
<polyline points="234.2,1310.0 263.4,1314.9 271.2,1362.3 278.9,1370.2 292.6,1365.3 313.0,1378.1 339.2,1378.1 360.6,1362.3 375.2,1367.2 390.8,1372.2 427.7,1383.0 438.4,1378.1 458.8,1383.0 469.5,1375.1 485.1,1375.1 495.8,1378.1 511.3,1395.9 526.9,1390.9 556.0,1390.9 574.5,1406.7 594.9,1392.9 613.4,1380.1 631.9,1392.9 652.3,1392.9 673.7,1400.8 691.2,1394.9 710.6,1388.0 724.2,1382.0 751.5,1389.9 769.9,1377.1 797.2,1369.2 815.6,1395.9 837.0,1403.8 867.2,1388.0 888.5,1398.8 912.9,1386.0 942.0,1385.0 952.7,1389.0 992.6,1377.1 1009.1,1399.8 1021.7,1399.8 1041.2,1397.8 1086.9,1382.0 1103.4,1390.9 1126.7,1390.9 1137.4,1385.0 1161.7,1394.9 1199.7,1382.0 1224.9,1406.7 1243.4,1397.8 1259.9,1390.9 1284.3,1387.0 1292.0,1390.9 1302.7,1383.0 1324.1,1391.9 1343.6,1379.1 1372.7,1384.0 1391.2,1398.8 1418.4,1390.9 1429.1,1394.9 1445.6,1393.9 1458.3,1399.8 1480.6,1394.9 1525.4,1407.7 1536.1,1399.8 1555.5,1407.7 1576.9,1401.8 1584.7,1393.9 1604.1,1394.9 1614.8,1390.9 1625.5,1395.9 1636.2,1389.0 1651.8,1389.0 1673.2,1395.9 1691.6,1391.9 1702.3,1401.8 1723.7,1393.9 1739.3,1383.0 1760.7,1376.1 1783.0,1380.1 1798.6,1381.1 1817.0,1372.2 1836.5,1384.0 1857.9,1383.0 1868.6,1372.2 1887.0,1366.3 1896.8,1373.2 1906.5,1366.3 1922.0,1373.2 1954.1,1372.2 1964.8,1374.1 2002.7,1376.1 2021.2,1394.9 2062.1,1398.8 2086.4,1394.9 2118.4,1385.0 2132.1,1388.0 2158.3,1387.0 2169.0,1390.9" fill="none" stroke="#a366b3" stroke-width="9" stroke-linejoin="round"/>
<polyline points="234.2,1106.7 243.9,1136.3 253.7,1161.0 263.4,1185.6 273.1,1215.2 278.9,1235.0 305.2,1236.0 320.8,1253.7 344.1,1250.8 365.5,1260.6 390.8,1257.7 412.1,1264.6 434.5,1269.5 454.0,1269.5 465.6,1291.2 469.5,1318.9 489.0,1318.9 508.4,1322.8 525.9,1338.6 550.2,1331.7 559.9,1328.7 572.6,1341.6 595.9,1329.7 618.3,1341.6 642.6,1331.7 666.9,1341.6 690.2,1334.7 710.6,1341.6 737.8,1336.6 762.2,1343.5 784.5,1336.6 807.9,1343.5 830.2,1340.6 854.5,1339.6 875.9,1344.5 900.2,1340.6 921.6,1344.5 946.9,1341.6 969.2,1347.5 994.5,1343.5 1015.9,1347.5 1040.2,1343.5 1051.9,1359.3 1076.2,1354.4 1099.5,1358.4 1123.8,1352.4 1148.1,1357.4 1172.4,1352.4 1196.8,1354.4 1221.1,1350.5 1245.4,1353.4 1269.7,1349.5 1294.0,1352.4 1318.3,1348.5 1342.6,1350.5 1366.9,1346.5 1386.3,1343.5 1400.9,1352.4 1435.0,1343.5 1449.5,1352.4 1483.6,1343.5 1498.1,1352.4 1532.2,1343.5 1546.8,1352.4 1580.8,1343.5 1595.4,1352.4 1629.4,1343.5 1644.0,1352.4 1678.0,1343.5 1692.6,1350.5 1731.5,1348.5 1780.1,1347.5 1828.7,1346.5 1877.3,1345.5 1925.9,1344.5 1974.5,1343.5 2023.2,1342.6 2071.8,1340.6 2120.4,1338.6 2169.0,1335.7" fill="none" stroke="#ff7a68" stroke-width="9" stroke-dasharray="26,23" stroke-linejoin="round"/>
<polyline points="234.2,1679.1 243.9,1649.5 253.7,1624.8 263.4,1600.2 273.1,1570.6 278.9,1550.8 305.2,1549.8 320.8,1532.1 344.1,1535.0 365.5,1525.2 390.8,1528.1 412.1,1521.2 434.5,1516.3 454.0,1516.3 465.6,1494.6 469.5,1466.9 489.0,1466.9 508.4,1463.0 525.9,1447.2 550.2,1454.1 559.9,1457.1 572.6,1444.2 595.9,1456.1 618.3,1444.2 642.6,1454.1 666.9,1444.2 690.2,1451.1 710.6,1444.2 737.8,1449.2 762.2,1442.2 784.5,1449.2 807.9,1442.2 830.2,1445.2 854.5,1446.2 875.9,1441.3 900.2,1445.2 921.6,1441.3 946.9,1444.2 969.2,1438.3 994.5,1442.2 1015.9,1438.3 1040.2,1442.2 1051.9,1426.5 1076.2,1431.4 1099.5,1427.4 1123.8,1433.4 1148.1,1428.4 1172.4,1433.4 1196.8,1431.4 1221.1,1435.3 1245.4,1432.4 1269.7,1436.3 1294.0,1433.4 1318.3,1437.3 1342.6,1435.3 1366.9,1439.3 1386.3,1442.2 1400.9,1433.4 1435.0,1442.2 1449.5,1433.4 1483.6,1442.2 1498.1,1433.4 1532.2,1442.2 1546.8,1433.4 1580.8,1442.2 1595.4,1433.4 1629.4,1442.2 1644.0,1433.4 1678.0,1442.2 1692.6,1435.3 1731.5,1437.3 1780.1,1438.3 1828.7,1439.3 1877.3,1440.3 1925.9,1441.3 1974.5,1442.2 2023.2,1443.2 2071.8,1445.2 2120.4,1447.2 2169.0,1450.1" fill="none" stroke="#ff7a68" stroke-width="9" stroke-dasharray="26,23" stroke-linejoin="round"/>
<polyline points="234.2,1482.7 263.4,1488.6 268.3,1481.7 271.2,1362.3 292.6,1355.4 313.0,1367.2 323.7,1375.1 341.2,1375.1 360.6,1362.3 375.2,1368.2 417.0,1387.0 438.4,1383.0 467.6,1395.9 485.1,1395.9 506.5,1411.7 524.0,1395.9 556.0,1395.9 574.5,1407.7 594.9,1395.9 613.4,1388.0 631.9,1400.8 652.3,1398.8 673.7,1400.8 710.6,1388.0 724.2,1382.0 751.5,1389.9 769.9,1377.1 797.2,1369.2 817.6,1398.8 837.0,1405.7 866.2,1390.9 888.5,1401.8 912.9,1386.0 942.0,1385.0 952.7,1389.0 992.6,1377.1 1009.1,1392.9 1021.7,1385.0 1050.9,1385.0 1070.4,1383.0 1086.9,1382.0 1103.4,1390.9 1129.7,1378.1 1156.9,1388.0 1199.7,1386.0 1224.9,1406.7 1243.4,1397.8 1259.9,1390.9 1284.3,1387.0 1292.0,1390.9 1302.7,1383.0 1324.1,1391.9 1343.6,1379.1 1372.7,1384.0 1391.2,1398.8 1418.4,1390.9 1429.1,1394.9 1445.6,1393.9 1458.3,1399.8 1480.6,1394.9 1525.4,1407.7 1536.1,1399.8 1555.5,1407.7 1580.8,1405.7 1595.4,1406.7 1619.7,1405.7 1625.5,1407.7 1651.8,1389.0 1673.2,1395.9 1691.6,1391.9 1702.3,1401.8 1723.7,1393.9 1739.3,1383.0 1760.7,1376.1 1783.0,1380.1 1798.6,1381.1 1817.0,1372.2 1836.5,1384.0 1857.9,1383.0 1868.6,1372.2 1892.9,1385.0 1906.5,1377.1 1922.0,1380.1 1954.1,1372.2 1964.8,1374.1 1992.1,1393.9 2002.7,1381.1 2021.2,1394.9 2062.1,1398.8 2086.4,1394.9 2118.4,1385.0 2132.1,1388.0 2158.3,1387.0 2169.0,1390.9" fill="none" stroke="#ff7a68" stroke-width="9" stroke-linejoin="round"/>
<polyline points="234.2,1106.7 243.9,1136.3 253.7,1161.0 263.4,1185.6 273.1,1215.2 282.8,1225.1 315.9,1226.1 319.8,1253.7 331.4,1270.5 355.8,1264.6 375.2,1278.4 401.4,1272.5 424.8,1280.4 450.1,1273.5 462.7,1291.2 467.6,1317.9 474.4,1335.7 499.6,1326.8 516.2,1345.5 537.6,1343.5 560.9,1339.6 582.3,1349.5 605.6,1343.5 628.0,1351.4 651.3,1346.5 673.7,1351.4 697.0,1346.5 719.4,1350.5 744.7,1347.5 765.1,1352.4 788.4,1348.5 805.9,1359.3 832.2,1354.4 851.6,1360.3 877.9,1355.4 897.3,1355.4 921.6,1358.4 943.0,1352.4 967.3,1360.3 991.6,1347.5 1013.0,1363.3 1037.3,1348.5 1054.8,1366.3 1079.1,1351.4 1100.5,1363.3 1123.8,1355.4 1148.1,1359.3 1172.4,1353.4 1196.8,1358.4 1213.3,1361.3 1236.6,1353.4 1255.1,1361.3 1279.4,1354.4 1303.7,1361.3 1328.0,1354.4 1352.3,1360.3 1376.6,1355.4 1400.9,1361.3 1425.2,1355.4 1449.5,1361.3 1473.8,1356.4 1498.1,1360.3 1522.5,1353.4 1541.9,1363.3 1571.1,1350.5 1590.5,1362.3 1619.7,1350.5 1639.1,1363.3 1668.3,1350.5 1687.7,1362.3 1710.1,1353.4 1732.5,1359.3 1755.8,1351.4 1780.1,1354.4 1804.4,1350.5 1828.7,1353.4 1853.0,1350.5 1877.3,1351.4 1901.6,1353.4 1925.9,1348.5 1950.2,1353.4 1974.5,1348.5 1998.9,1351.4 2023.2,1347.5 2047.5,1345.5 2071.8,1340.6 2096.1,1338.6 2120.4,1338.6 2144.7,1335.7 2169.0,1333.7" fill="none" stroke="#00a610" stroke-width="9" stroke-dasharray="26,23" stroke-linejoin="round"/>
<polyline points="234.2,1679.1 243.9,1649.5 253.7,1624.8 263.4,1600.2 273.1,1570.6 282.8,1560.7 315.9,1559.7 319.8,1532.1 331.4,1515.3 355.8,1521.2 375.2,1507.4 401.4,1513.3 424.8,1505.4 450.1,1512.3 462.7,1494.6 467.6,1467.9 474.4,1450.1 499.6,1459.0 516.2,1440.3 537.6,1442.2 560.9,1446.2 582.3,1436.3 605.6,1442.2 628.0,1434.4 651.3,1439.3 673.7,1434.4 697.0,1439.3 719.4,1435.3 744.7,1438.3 765.1,1433.4 788.4,1437.3 805.9,1426.5 832.2,1431.4 851.6,1425.5 877.9,1430.4 897.3,1430.4 921.6,1427.4 943.0,1433.4 967.3,1425.5 991.6,1438.3 1013.0,1422.5 1037.3,1437.3 1054.8,1419.5 1079.1,1434.4 1100.5,1422.5 1123.8,1430.4 1148.1,1426.5 1172.4,1432.4 1196.8,1427.4 1213.3,1424.5 1236.6,1432.4 1255.1,1424.5 1279.4,1431.4 1303.7,1424.5 1328.0,1431.4 1352.3,1425.5 1376.6,1430.4 1400.9,1424.5 1425.2,1430.4 1449.5,1424.5 1473.8,1429.4 1498.1,1425.5 1522.5,1432.4 1541.9,1422.5 1571.1,1435.3 1590.5,1423.5 1619.7,1435.3 1639.1,1422.5 1668.3,1435.3 1687.7,1423.5 1710.1,1432.4 1732.5,1426.5 1755.8,1434.4 1780.1,1431.4 1804.4,1435.3 1828.7,1432.4 1853.0,1435.3 1877.3,1434.4 1901.6,1432.4 1925.9,1437.3 1950.2,1432.4 1974.5,1437.3 1998.9,1434.4 2023.2,1438.3 2047.5,1440.3 2071.8,1445.2 2096.1,1447.2 2120.4,1447.2 2144.7,1450.1 2169.0,1452.1" fill="none" stroke="#00a610" stroke-width="9" stroke-dasharray="26,23" stroke-linejoin="round"/>
<polyline points="234.2,1461.0 263.4,1467.9 273.1,1411.7 292.6,1403.8 313.0,1416.6 323.7,1389.9 341.2,1389.9 354.8,1380.1 373.3,1372.2 390.8,1379.1 422.8,1384.0 438.4,1379.1 458.8,1383.0 469.5,1391.9 490.9,1391.9 506.5,1406.7 526.9,1393.9 556.0,1391.9 574.5,1406.7 594.9,1392.9 613.4,1379.1 631.9,1391.9 652.3,1390.9 673.7,1399.8 691.2,1394.9 699.9,1394.9 724.2,1382.0 751.5,1389.9 769.9,1377.1 797.2,1369.2 815.6,1395.9 837.0,1403.8 867.2,1388.0 888.5,1398.8 912.9,1386.0 942.0,1385.0 952.7,1389.0 992.6,1377.1 1009.1,1392.9 1049.0,1391.9 1086.9,1382.0 1103.4,1390.9 1126.7,1390.9 1137.4,1385.0 1161.7,1394.9 1189.9,1391.9 1206.5,1394.9 1224.9,1406.7 1243.4,1397.8 1259.9,1390.9 1284.3,1387.0 1292.0,1390.9 1302.7,1383.0 1324.1,1391.9 1343.6,1379.1 1372.7,1384.0 1391.2,1398.8 1418.4,1390.9 1429.1,1394.9 1445.6,1393.9 1458.3,1399.8 1480.6,1394.9 1525.4,1407.7 1536.1,1399.8 1555.5,1407.7 1576.9,1401.8 1584.7,1393.9 1604.1,1394.9 1614.8,1390.9 1625.5,1395.9 1636.2,1389.0 1651.8,1389.0 1673.2,1395.9 1691.6,1391.9 1702.3,1401.8 1723.7,1393.9 1739.3,1383.0 1760.7,1376.1 1783.0,1380.1 1798.6,1381.1 1817.0,1372.2 1836.5,1384.0 1857.9,1383.0 1868.6,1372.2 1892.9,1385.0 1906.5,1377.1 1922.0,1380.1 1954.1,1372.2 1964.8,1374.1 1992.1,1393.9 2002.7,1381.1 2021.2,1394.9 2062.1,1398.8 2086.4,1394.9 2118.4,1385.0 2132.1,1388.0 2158.3,1387.0 2169.0,1390.9" fill="none" stroke="#00a610" stroke-width="9" stroke-linejoin="round"/>
</g>
<rect x="224.5" y="1195.5" width="1944.5" height="394.8" fill="none" stroke="#262626" stroke-width="3.2"/>
<text x="198" y="1610.8" font-family="Liberation Serif, serif" font-size="82" fill="#262626" text-anchor="end">-2</text>
<text x="198" y="1413.4" font-family="Liberation Serif, serif" font-size="82" fill="#262626" text-anchor="end">0</text>
<text x="198" y="1216.0" font-family="Liberation Serif, serif" font-size="82" fill="#262626" text-anchor="end">2</text>
<text x="224.5" y="1684.0" font-family="Liberation Serif, serif" font-size="82" fill="#262626" text-anchor="middle">0</text>
<text x="710.6" y="1684.0" font-family="Liberation Serif, serif" font-size="82" fill="#262626" text-anchor="middle">50</text>
<text x="1196.8" y="1684.0" font-family="Liberation Serif, serif" font-size="82" fill="#262626" text-anchor="middle">100</text>
<text x="1682.9" y="1684.0" font-family="Liberation Serif, serif" font-size="82" fill="#262626" text-anchor="middle">150</text>
<text x="2169.0" y="1684.0" font-family="Liberation Serif, serif" font-size="82" fill="#262626" text-anchor="middle">200</text>
<g stroke="#dfdfdf" stroke-width="3"><line x1="710.6" y1="1765.5" x2="710.6" y2="2160.3"/><line x1="1196.8" y1="1765.5" x2="1196.8" y2="2160.3"/><line x1="1682.9" y1="1765.5" x2="1682.9" y2="2160.3"/><line x1="224.5" y1="1962.9" x2="2169.0" y2="1962.9"/></g>
<path d="M710.6 2160.3V2140.3M710.6 1765.5V1785.5M1196.8 2160.3V2140.3M1196.8 1765.5V1785.5M1682.9 2160.3V2140.3M1682.9 1765.5V1785.5M224.5 1962.9H244.5M2169.0 1962.9H2149.0" stroke="#262626" stroke-width="3" fill="none"/>
<clipPath id="c3"><rect x="224.5" y="1765.5" width="1944.5" height="394.8"/></clipPath>
<g clip-path="url(#c3)">
<polyline points="234.2,1911.6 256.6,1897.8 278.0,1887.9 302.3,1878.0 324.6,1867.2 349.9,1858.3 370.3,1848.4 394.6,1842.5 419.9,1836.6 443.3,1830.6 468.5,1828.7 492.8,1822.7 511.3,1832.6 537.6,1826.7 556.0,1826.7 575.5,1840.5 599.8,1826.7 618.3,1842.5 642.6,1830.6 664.0,1840.5 685.3,1834.6 707.7,1830.6 710.6,1864.2 725.2,1872.1 744.7,1860.3 762.2,1880.0 779.7,1876.0 804.0,1870.1 817.6,1893.8 841.9,1887.9 856.5,1895.8 875.9,1903.7 892.4,1876.0 907.0,1895.8 928.4,1891.8 948.8,1887.9 962.4,1899.7 983.8,1895.8 998.4,1903.7 1015.9,1899.7 1041.2,1883.9 1051.9,1903.7 1070.4,1891.8 1094.7,1883.9 1105.4,1899.7 1129.7,1887.9 1145.2,1897.8 1168.6,1887.9 1188.0,1880.0 1199.7,1887.9 1212.3,1887.9 1232.7,1872.1 1257.0,1876.0 1278.4,1860.3 1299.8,1870.1 1324.1,1858.3 1348.4,1864.2 1371.8,1850.4 1391.2,1862.2 1410.6,1858.3 1435.9,1854.3 1447.6,1868.1 1471.9,1860.3 1484.5,1878.0 1508.8,1870.1 1525.4,1868.1 1545.8,1882.0 1566.2,1864.2 1585.7,1880.0 1610.0,1874.1 1629.4,1866.2 1647.9,1876.0 1673.2,1866.2 1689.7,1872.1 1714.0,1864.2 1732.5,1870.1 1756.8,1862.2 1773.3,1870.1 1793.7,1876.0 1816.1,1862.2 1830.7,1883.9 1854.0,1868.1 1873.4,1874.1 1890.0,1878.0 1913.3,1872.1 1928.9,1885.9 1950.2,1876.0 1974.5,1880.0 1994.0,1878.0 2010.5,1868.1 2027.1,1883.9 2047.5,1870.1 2066.9,1880.0 2090.2,1878.0 2114.6,1870.1 2130.1,1883.9 2154.4,1876.0 2169.0,1874.1" fill="none" stroke="#a366b3" stroke-width="9" stroke-dasharray="26,23" stroke-linejoin="round"/>
<polyline points="234.2,2014.2 256.6,2028.0 278.0,2037.9 302.3,2047.8 324.6,2058.6 349.9,2067.5 370.3,2077.4 394.6,2083.3 419.9,2089.2 443.3,2095.2 468.5,2097.1 492.8,2103.1 511.3,2093.2 537.6,2099.1 556.0,2099.1 575.5,2085.3 599.8,2099.1 618.3,2083.3 642.6,2095.2 664.0,2085.3 685.3,2091.2 707.7,2095.2 710.6,2061.6 725.2,2053.7 744.7,2065.5 762.2,2045.8 779.7,2049.8 804.0,2055.7 817.6,2032.0 841.9,2037.9 856.5,2030.0 875.9,2022.1 892.4,2049.8 907.0,2030.0 928.4,2034.0 948.8,2037.9 962.4,2026.1 983.8,2030.0 998.4,2022.1 1015.9,2026.1 1041.2,2041.9 1051.9,2022.1 1070.4,2034.0 1094.7,2041.9 1105.4,2026.1 1129.7,2037.9 1145.2,2028.0 1168.6,2037.9 1188.0,2045.8 1199.7,2037.9 1212.3,2037.9 1232.7,2053.7 1257.0,2049.8 1278.4,2065.5 1299.8,2055.7 1324.1,2067.5 1348.4,2061.6 1371.8,2075.4 1391.2,2063.6 1410.6,2067.5 1435.9,2071.5 1447.6,2057.7 1471.9,2065.5 1484.5,2047.8 1508.8,2055.7 1525.4,2057.7 1545.8,2043.8 1566.2,2061.6 1585.7,2045.8 1610.0,2051.7 1629.4,2059.6 1647.9,2049.8 1673.2,2059.6 1689.7,2053.7 1714.0,2061.6 1732.5,2055.7 1756.8,2063.6 1773.3,2055.7 1793.7,2049.8 1816.1,2063.6 1830.7,2041.9 1854.0,2057.7 1873.4,2051.7 1890.0,2047.8 1913.3,2053.7 1928.9,2039.9 1950.2,2049.8 1974.5,2045.8 1994.0,2047.8 2010.5,2057.7 2027.1,2041.9 2047.5,2055.7 2066.9,2045.8 2090.2,2047.8 2114.6,2055.7 2130.1,2041.9 2154.4,2049.8 2169.0,2051.7" fill="none" stroke="#a366b3" stroke-width="9" stroke-dasharray="26,23" stroke-linejoin="round"/>
<polyline points="234.2,1976.7 263.4,1982.6 302.3,1960.9 315.9,1959.0 328.5,1962.9 347.0,1974.7 362.6,1986.6 381.0,1978.7 407.3,1959.0 422.8,1959.0 440.3,1947.1 458.8,1974.7 474.4,1953.0 495.8,1957.0 516.2,1957.0 537.6,1978.7 556.0,1992.5 563.8,1970.8 579.4,1974.7 610.5,1984.6 642.6,1994.5 667.8,1990.5 683.4,1986.6 699.0,2010.3 710.6,1982.6 716.5,1972.8 740.8,1974.7 759.2,1935.3 769.9,1945.1 780.6,1935.3 797.2,1927.4 807.9,1943.2 826.3,1945.1 839.9,1935.3 855.5,1929.3 874.9,1939.2 885.6,1959.0 896.3,1935.3 914.8,1959.0 925.5,1960.9 934.2,1972.8 943.0,2002.4 952.7,1980.7 971.2,1972.8 990.6,1976.7 1003.3,1976.7 1022.7,1959.0 1041.2,1947.1 1049.0,1955.0 1059.7,1951.1 1073.3,1959.0 1084.0,1957.0 1092.7,1947.1 1100.5,1917.5 1117.0,1919.5 1146.2,1949.1 1178.3,1933.3 1189.9,1941.2 1206.5,1933.3 1217.2,1947.1 1232.7,1931.3 1246.3,1917.5 1264.8,1919.5 1281.3,1929.3 1293.0,1955.0 1302.7,1943.2 1313.4,1955.0 1324.1,1951.1 1332.9,1951.1 1351.3,1939.2 1380.5,1935.3 1401.9,1972.8 1421.3,1941.2 1442.7,1947.1 1458.3,1949.1 1477.7,1982.6 1502.0,1968.8 1537.0,1970.8 1558.4,1972.8 1569.1,1959.0 1595.4,1970.8 1625.5,1980.7 1646.9,1972.8 1662.5,1976.7 1673.2,1959.0 1687.7,1953.0 1702.3,1966.8 1715.0,1957.0 1731.5,1931.3 1750.0,1943.2 1769.4,1962.9 1783.0,1974.7 1809.3,1957.0 1836.5,1962.9 1857.9,1949.1 1879.3,1939.2 1887.0,1941.2 1895.8,1957.0 1906.5,1953.0 1925.0,1970.8 1943.4,1959.0 1954.1,1962.9 1964.8,1951.1 1984.3,1960.9 1997.9,1947.1 2010.5,1951.1 2013.4,1966.8 2021.2,1955.0 2031.9,1964.9 2048.4,1947.1 2062.1,1929.3 2080.5,1933.3 2091.2,1929.3 2115.5,1935.3 2121.4,1949.1 2132.1,1933.3 2158.3,1923.4 2169.0,1933.3" fill="none" stroke="#a366b3" stroke-width="9" stroke-linejoin="round"/>
<polyline points="234.2,1911.6 256.6,1897.8 278.0,1887.9 302.3,1878.0 324.6,1867.2 349.9,1859.3 370.3,1850.4 394.6,1844.5 418.9,1842.5 444.2,1836.6 461.7,1846.4 488.0,1840.5 504.5,1838.5 523.0,1854.3 546.3,1840.5 565.8,1856.3 586.2,1852.4 609.5,1848.4 625.1,1856.3 649.4,1850.4 664.9,1862.2 690.2,1856.3 704.8,1864.2 721.3,1876.0 744.7,1860.3 762.2,1880.0 781.6,1864.2 804.0,1870.1 814.7,1882.0 839.0,1876.0 851.6,1891.8 872.0,1883.9 892.4,1876.0 907.0,1895.8 928.4,1885.9 948.8,1880.0 962.4,1897.8 983.8,1885.9 998.4,1891.8 1015.9,1887.9 1045.1,1880.0 1069.4,1870.1 1092.7,1866.2 1117.0,1862.2 1136.5,1854.3 1159.8,1862.2 1182.2,1850.4 1199.7,1872.1 1221.1,1856.3 1243.4,1862.2 1259.9,1868.1 1282.3,1862.2 1291.1,1882.0 1308.6,1876.0 1333.8,1870.1 1345.5,1883.9 1378.6,1868.1 1389.3,1883.9 1414.5,1870.1 1435.0,1876.0 1443.7,1891.8 1467.0,1883.9 1481.6,1880.0 1496.2,1891.8 1524.4,1876.0 1536.1,1887.9 1558.4,1887.9 1576.9,1883.9 1594.4,1893.8 1606.1,1889.9 1634.3,1895.8 1658.6,1887.9 1678.0,1883.9 1692.6,1891.8 1716.9,1878.0 1731.5,1887.9 1760.7,1880.0 1780.1,1883.9 1793.7,1880.0 1820.0,1872.1 1833.6,1883.9 1857.9,1876.0 1872.5,1887.9 1896.8,1880.0 1914.3,1874.1 1929.8,1891.8 1950.2,1874.1 1969.7,1882.0 1989.1,1883.9 2010.5,1876.0 2026.1,1887.9 2048.4,1880.0 2065.0,1883.9 2086.4,1887.9 2107.7,1878.0 2122.3,1887.9 2153.4,1870.1 2169.0,1870.1" fill="none" stroke="#ff7a68" stroke-width="9" stroke-dasharray="26,23" stroke-linejoin="round"/>
<polyline points="234.2,2014.2 256.6,2028.0 278.0,2037.9 302.3,2047.8 324.6,2058.6 349.9,2066.5 370.3,2075.4 394.6,2081.3 418.9,2083.3 444.2,2089.2 461.7,2079.4 488.0,2085.3 504.5,2087.3 523.0,2071.5 546.3,2085.3 565.8,2069.5 586.2,2073.4 609.5,2077.4 625.1,2069.5 649.4,2075.4 664.9,2063.6 690.2,2069.5 704.8,2061.6 721.3,2049.8 744.7,2065.5 762.2,2045.8 781.6,2061.6 804.0,2055.7 814.7,2043.8 839.0,2049.8 851.6,2034.0 872.0,2041.9 892.4,2049.8 907.0,2030.0 928.4,2039.9 948.8,2045.8 962.4,2028.0 983.8,2039.9 998.4,2034.0 1015.9,2037.9 1045.1,2045.8 1069.4,2055.7 1092.7,2059.6 1117.0,2063.6 1136.5,2071.5 1159.8,2063.6 1182.2,2075.4 1199.7,2053.7 1221.1,2069.5 1243.4,2063.6 1259.9,2057.7 1282.3,2063.6 1291.1,2043.8 1308.6,2049.8 1333.8,2055.7 1345.5,2041.9 1378.6,2057.7 1389.3,2041.9 1414.5,2055.7 1435.0,2049.8 1443.7,2034.0 1467.0,2041.9 1481.6,2045.8 1496.2,2034.0 1524.4,2049.8 1536.1,2037.9 1558.4,2037.9 1576.9,2041.9 1594.4,2032.0 1606.1,2035.9 1634.3,2030.0 1658.6,2037.9 1678.0,2041.9 1692.6,2034.0 1716.9,2047.8 1731.5,2037.9 1760.7,2045.8 1780.1,2041.9 1793.7,2045.8 1820.0,2053.7 1833.6,2041.9 1857.9,2049.8 1872.5,2037.9 1896.8,2045.8 1914.3,2051.7 1929.8,2034.0 1950.2,2051.7 1969.7,2043.8 1989.1,2041.9 2010.5,2049.8 2026.1,2037.9 2048.4,2045.8 2065.0,2041.9 2086.4,2037.9 2107.7,2047.8 2122.3,2037.9 2153.4,2055.7 2169.0,2055.7" fill="none" stroke="#ff7a68" stroke-width="9" stroke-dasharray="26,23" stroke-linejoin="round"/>
<polyline points="234.2,2000.4 248.8,1996.5 263.4,2004.4 274.1,1990.5 297.4,1970.8 307.1,1968.8 328.5,1962.9 347.0,1974.7 367.4,1992.5 381.0,1978.7 407.3,1959.0 422.8,1953.0 440.3,1947.1 458.8,1968.8 472.4,1951.1 495.8,1953.0 516.2,1962.9 526.9,1978.7 537.6,1978.7 556.0,1992.5 563.8,1970.8 579.4,1974.7 610.5,1974.7 642.6,1982.6 667.8,1974.7 683.4,1978.7 699.0,1998.4 710.6,1982.6 716.5,1972.8 740.8,1974.7 759.2,1935.3 769.9,1945.1 780.6,1935.3 797.2,1927.4 807.9,1943.2 821.5,1927.4 839.9,1921.4 855.5,1929.3 874.9,1939.2 885.6,1959.0 896.3,1935.3 914.8,1959.0 925.5,1960.9 934.2,1972.8 943.0,2002.4 952.7,1980.7 971.2,1972.8 990.6,1976.7 1003.3,1976.7 1022.7,1959.0 1041.2,1947.1 1049.0,1955.0 1059.7,1951.1 1073.3,1959.0 1084.0,1957.0 1103.4,1925.4 1117.0,1919.5 1143.3,1939.2 1156.9,1935.3 1173.4,1921.4 1189.0,1921.4 1194.8,1951.1 1217.2,1957.0 1232.7,1931.3 1246.3,1925.4 1264.8,1919.5 1281.3,1929.3 1293.0,1955.0 1302.7,1943.2 1313.4,1955.0 1334.8,1949.1 1380.5,1951.1 1401.9,1972.8 1418.4,1957.0 1432.0,1957.0 1442.7,1947.1 1458.3,1949.1 1477.7,1978.7 1488.4,1959.0 1502.0,1968.8 1525.4,1986.6 1539.0,1962.9 1569.1,1951.1 1595.4,1970.8 1619.7,1980.7 1646.9,1964.9 1662.5,1964.9 1678.0,1951.1 1702.3,1966.8 1715.0,1957.0 1731.5,1939.2 1750.0,1943.2 1777.2,1984.6 1790.8,1988.6 1806.4,1972.8 1820.0,1980.7 1836.5,1962.9 1857.9,1947.1 1879.3,1939.2 1895.8,1966.8 1916.2,1974.7 1943.4,1959.0 1954.1,1962.9 1964.8,1951.1 1984.3,1960.9 1997.9,1943.2 2010.5,1951.1 2013.4,1966.8 2021.2,1955.0 2031.9,1964.9 2048.4,1947.1 2069.8,1921.4 2091.2,1921.4 2115.5,1925.4 2132.1,1933.3 2158.3,1921.4 2169.0,1927.4" fill="none" stroke="#ff7a68" stroke-width="9" stroke-linejoin="round"/>
<polyline points="234.2,1911.6 256.6,1897.8 278.0,1887.9 302.3,1878.0 324.6,1868.1 349.9,1862.2 371.3,1858.3 396.6,1852.4 412.1,1854.3 435.5,1862.2 454.9,1850.4 469.5,1874.1 492.8,1858.3 514.2,1868.1 527.8,1874.1 552.1,1866.2 564.8,1885.9 588.1,1874.1 605.6,1874.1 624.1,1887.9 648.4,1868.1 663.0,1887.9 683.4,1882.0 706.7,1872.1 721.3,1885.9 744.7,1876.0 755.3,1897.8 778.7,1889.9 798.1,1880.0 811.7,1901.7 832.2,1882.0 851.6,1887.9 868.1,1895.8 890.5,1885.9 901.2,1903.7 924.5,1891.8 943.0,1885.9 958.5,1905.7 979.9,1885.9 1001.3,1895.8 1016.9,1891.8 1041.2,1883.9 1061.6,1883.9 1084.0,1876.0 1101.5,1885.9 1124.8,1878.0 1142.3,1885.9 1164.7,1878.0 1186.1,1872.1 1199.7,1883.9 1207.4,1880.0 1230.8,1862.2 1248.3,1880.0 1270.6,1864.2 1292.0,1872.1 1308.6,1876.0 1332.9,1868.1 1345.5,1883.9 1368.8,1876.0 1383.4,1880.0 1401.9,1893.8 1422.3,1874.1 1439.8,1891.8 1458.3,1887.9 1480.6,1878.0 1488.4,1901.7 1512.7,1891.8 1527.3,1891.8 1547.7,1903.7 1569.1,1883.9 1586.6,1897.8 1604.1,1893.8 1629.4,1883.9 1641.1,1897.8 1665.4,1887.9 1679.0,1895.8 1703.3,1885.9 1720.8,1883.9 1738.3,1895.8 1760.7,1876.0 1778.2,1891.8 1797.6,1889.9 1821.9,1882.0 1833.6,1895.8 1855.9,1885.9 1872.5,1895.8 1892.9,1887.9 1915.2,1880.0 1928.9,1899.7 1950.2,1880.0 1973.6,1883.9 1986.2,1891.8 2009.6,1883.9 2026.1,1895.8 2048.4,1885.9 2065.0,1887.9 2086.4,1895.8 2107.7,1876.0 2122.3,1895.8 2146.6,1883.9 2169.0,1876.0" fill="none" stroke="#00a610" stroke-width="9" stroke-dasharray="26,23" stroke-linejoin="round"/>
<polyline points="234.2,2014.2 256.6,2028.0 278.0,2037.9 302.3,2047.8 324.6,2057.7 349.9,2063.6 371.3,2067.5 396.6,2073.4 412.1,2071.5 435.5,2063.6 454.9,2075.4 469.5,2051.7 492.8,2067.5 514.2,2057.7 527.8,2051.7 552.1,2059.6 564.8,2039.9 588.1,2051.7 605.6,2051.7 624.1,2037.9 648.4,2057.7 663.0,2037.9 683.4,2043.8 706.7,2053.7 721.3,2039.9 744.7,2049.8 755.3,2028.0 778.7,2035.9 798.1,2045.8 811.7,2024.1 832.2,2043.8 851.6,2037.9 868.1,2030.0 890.5,2039.9 901.2,2022.1 924.5,2034.0 943.0,2039.9 958.5,2020.1 979.9,2039.9 1001.3,2030.0 1016.9,2034.0 1041.2,2041.9 1061.6,2041.9 1084.0,2049.8 1101.5,2039.9 1124.8,2047.8 1142.3,2039.9 1164.7,2047.8 1186.1,2053.7 1199.7,2041.9 1207.4,2045.8 1230.8,2063.6 1248.3,2045.8 1270.6,2061.6 1292.0,2053.7 1308.6,2049.8 1332.9,2057.7 1345.5,2041.9 1368.8,2049.8 1383.4,2045.8 1401.9,2032.0 1422.3,2051.7 1439.8,2034.0 1458.3,2037.9 1480.6,2047.8 1488.4,2024.1 1512.7,2034.0 1527.3,2034.0 1547.7,2022.1 1569.1,2041.9 1586.6,2028.0 1604.1,2032.0 1629.4,2041.9 1641.1,2028.0 1665.4,2037.9 1679.0,2030.0 1703.3,2039.9 1720.8,2041.9 1738.3,2030.0 1760.7,2049.8 1778.2,2034.0 1797.6,2035.9 1821.9,2043.8 1833.6,2030.0 1855.9,2039.9 1872.5,2030.0 1892.9,2037.9 1915.2,2045.8 1928.9,2026.1 1950.2,2045.8 1973.6,2041.9 1986.2,2034.0 2009.6,2041.9 2026.1,2030.0 2048.4,2039.9 2065.0,2037.9 2086.4,2030.0 2107.7,2049.8 2122.3,2030.0 2146.6,2041.9 2169.0,2049.8" fill="none" stroke="#00a610" stroke-width="9" stroke-dasharray="26,23" stroke-linejoin="round"/>
<polyline points="234.2,1970.8 263.4,1974.7 274.1,1986.6 297.4,1970.8 307.1,1968.8 328.5,1962.9 347.0,1974.7 362.6,1986.6 381.0,1978.7 407.3,1959.0 422.8,1947.1 440.3,1947.1 458.8,1959.0 474.4,1953.0 495.8,1957.0 506.5,1968.8 516.2,1962.9 526.9,1978.7 537.6,1978.7 556.0,1992.5 563.8,1970.8 579.4,1974.7 599.8,1972.8 613.4,1962.9 633.8,1960.9 644.5,1968.8 652.3,1966.8 667.8,1984.6 683.4,1986.6 699.0,2002.4 710.6,1982.6 716.5,1972.8 740.8,1974.7 759.2,1935.3 769.9,1945.1 780.6,1935.3 797.2,1927.4 807.9,1943.2 826.3,1945.1 839.9,1935.3 855.5,1929.3 874.9,1939.2 885.6,1959.0 896.3,1935.3 914.8,1959.0 925.5,1960.9 934.2,1972.8 943.0,2002.4 952.7,1980.7 971.2,1972.8 990.6,1976.7 1003.3,1976.7 1022.7,1959.0 1041.2,1947.1 1049.0,1955.0 1059.7,1951.1 1073.3,1959.0 1084.0,1957.0 1092.7,1947.1 1100.5,1917.5 1117.0,1919.5 1135.5,1921.4 1146.2,1959.0 1156.9,1951.1 1167.6,1959.0 1178.3,1941.2 1189.9,1941.2 1206.5,1933.3 1217.2,1947.1 1232.7,1931.3 1246.3,1917.5 1264.8,1919.5 1281.3,1929.3 1293.0,1955.0 1302.7,1943.2 1313.4,1955.0 1324.1,1951.1 1332.9,1951.1 1343.6,1959.0 1380.5,1951.1 1401.9,1972.8 1418.4,1957.0 1432.0,1957.0 1442.7,1947.1 1458.3,1949.1 1477.7,1978.7 1488.4,1959.0 1502.0,1968.8 1525.4,1986.6 1537.0,1957.0 1549.7,1951.1 1558.4,1955.0 1569.1,1943.2 1576.9,1947.1 1595.4,1970.8 1614.8,1980.7 1625.5,1984.6 1636.2,1959.0 1649.8,1951.1 1662.5,1951.1 1673.2,1943.2 1687.7,1953.0 1702.3,1966.8 1715.0,1957.0 1731.5,1931.3 1750.0,1943.2 1769.4,1962.9 1780.1,1994.5 1790.8,1988.6 1806.4,1972.8 1820.0,1980.7 1836.5,1962.9 1857.9,1947.1 1879.3,1939.2 1887.0,1941.2 1895.8,1957.0 1906.5,1953.0 1925.0,1970.8 1943.4,1959.0 1954.1,1962.9 1964.8,1951.1 1984.3,1960.9 1997.9,1947.1 2010.5,1951.1 2013.4,1966.8 2021.2,1955.0 2031.9,1964.9 2048.4,1947.1 2062.1,1929.3 2080.5,1933.3 2091.2,1929.3 2115.5,1935.3 2121.4,1949.1 2132.1,1933.3 2158.3,1923.4 2169.0,1933.3" fill="none" stroke="#00a610" stroke-width="9" stroke-linejoin="round"/>
</g>
<rect x="224.5" y="1765.5" width="1944.5" height="394.8" fill="none" stroke="#262626" stroke-width="3.2"/>
<text x="198" y="2180.8" font-family="Liberation Serif, serif" font-size="82" fill="#262626" text-anchor="end">-1</text>
<text x="198" y="1983.4" font-family="Liberation Serif, serif" font-size="82" fill="#262626" text-anchor="end">0</text>
<text x="198" y="1786.0" font-family="Liberation Serif, serif" font-size="82" fill="#262626" text-anchor="end">1</text>
<text x="224.5" y="2254.0" font-family="Liberation Serif, serif" font-size="82" fill="#262626" text-anchor="middle">0</text>
<text x="710.6" y="2254.0" font-family="Liberation Serif, serif" font-size="82" fill="#262626" text-anchor="middle">50</text>
<text x="1196.8" y="2254.0" font-family="Liberation Serif, serif" font-size="82" fill="#262626" text-anchor="middle">100</text>
<text x="1682.9" y="2254.0" font-family="Liberation Serif, serif" font-size="82" fill="#262626" text-anchor="middle">150</text>
<text x="2169.0" y="2254.0" font-family="Liberation Serif, serif" font-size="82" fill="#262626" text-anchor="middle">200</text>
<text transform="translate(87.0,423.0) rotate(-90)" font-family="Liberation Serif, serif" font-size="91" fill="#262626" textLength="114.0" lengthAdjust="spacingAndGlyphs">err</text>
<text transform="translate(101.4,301.6) rotate(-90)" font-family="Liberation Serif, serif" font-size="64" font-style="italic" fill="#262626" textLength="26.6" lengthAdjust="spacingAndGlyphs">x</text>
<text transform="translate(87.0,230.6) rotate(-90)" font-family="Liberation Serif, serif" font-size="91" fill="#262626" textLength="135.6" lengthAdjust="spacingAndGlyphs"><tspan font-size="99">(</tspan>m<tspan font-size="99">)</tspan></text>
<text transform="translate(87.0,992.4) rotate(-90)" font-family="Liberation Serif, serif" font-size="91" fill="#262626" textLength="112.2" lengthAdjust="spacingAndGlyphs">err</text>
<text transform="translate(101.4,869.0) rotate(-90)" font-family="Liberation Serif, serif" font-size="64" font-style="italic" fill="#262626" textLength="23.6" lengthAdjust="spacingAndGlyphs">y</text>
<text transform="translate(87.0,803.8) rotate(-90)" font-family="Liberation Serif, serif" font-size="91" fill="#262626" textLength="138.0" lengthAdjust="spacingAndGlyphs"><tspan font-size="99">(</tspan>m<tspan font-size="99">)</tspan></text>
<text transform="translate(89.6,1565.6) rotate(-90)" font-family="Liberation Serif, serif" font-size="91" fill="#262626" textLength="116.8" lengthAdjust="spacingAndGlyphs">err</text>
<text transform="translate(104.0,1444.8) rotate(-90)" font-family="Liberation Serif, serif" font-size="64" font-style="italic" fill="#262626" textLength="27.8" lengthAdjust="spacingAndGlyphs">z</text>
<text transform="translate(89.6,1376.0) rotate(-90)" font-family="Liberation Serif, serif" font-size="91" fill="#262626" textLength="135.6" lengthAdjust="spacingAndGlyphs"><tspan font-size="99">(</tspan>m<tspan font-size="99">)</tspan></text>
<text transform="translate(86.6,2151.6) rotate(-90)" font-family="Liberation Serif, serif" font-size="91" fill="#262626" textLength="108.2" lengthAdjust="spacingAndGlyphs">err</text>
<text transform="translate(100.7,2041.8) rotate(-90)" font-family="Liberation Serif, serif" font-size="64" font-style="italic" fill="#262626" textLength="29.6" lengthAdjust="spacingAndGlyphs">θ</text>
<text transform="translate(86.6,1970.4) rotate(-90)" font-family="Liberation Serif, serif" font-size="91" fill="#262626" textLength="192.2" lengthAdjust="spacingAndGlyphs"><tspan font-size="99">(</tspan>rad<tspan font-size="99">)</tspan></text>
<text x="1027.0" y="2363.5" font-family="Liberation Serif, serif" font-size="93" fill="#262626" textLength="206.0" lengthAdjust="spacingAndGlyphs">Time</text>
<text x="1266.6" y="2363.5" font-family="Liberation Serif, serif" font-size="93" fill="#262626" textLength="96.4" lengthAdjust="spacingAndGlyphs"><tspan font-size="101">(</tspan>s<tspan font-size="101">)</tspan></text>
</svg>
</body></html>
